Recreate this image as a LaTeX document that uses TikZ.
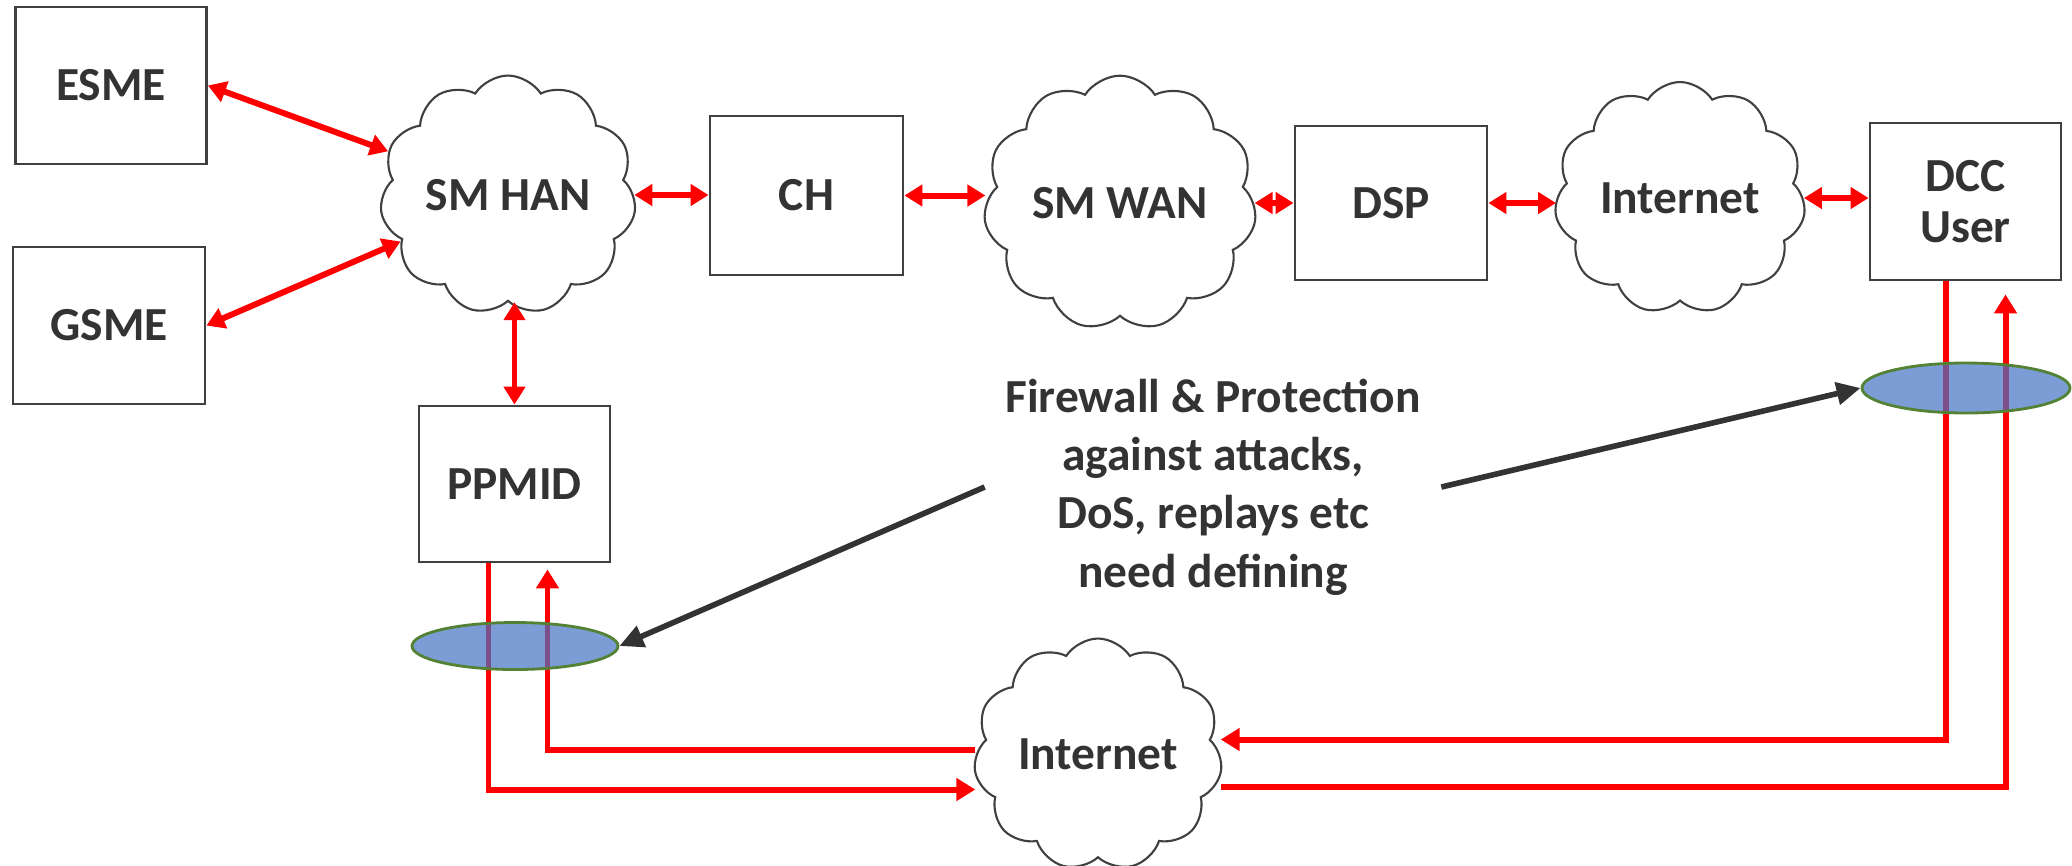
\documentclass[tikz,border=0pt]{standalone}
\usepackage{fontspec}
\setmainfont{Carlito}
\usetikzlibrary{arrows.meta,positioning,calc,shapes.geometric,shapes.symbols}
\definecolor{txtgray}{HTML}{333333}
\definecolor{boxgray}{HTML}{404040}
\definecolor{fwblue}{HTML}{4472C4}
\definecolor{fwgreen}{HTML}{548235}

\begin{document}
\begin{tikzpicture}[>=Latex, every node/.style={font=\fontsize{13.5}{14.5}\selectfont\bfseries, text=txtgray},
  unit/.style={draw=boxgray, line width=0.8pt, minimum width=1.91cm, minimum height=1.57cm, align=center},
  net/.style={cloud, draw=boxgray, line width=0.6pt, cloud puffs=11, cloud puff arc=115, aspect=1.1, inner sep=0pt},
  link/.style={red, line width=1.7pt, arrows={Triangle[length=1.8mm,width=2.1mm]-Triangle[length=1.8mm,width=2.1mm]}},
  flow/.style={red, line width=1.7pt, arrows={-Triangle[length=1.9mm,width=2.2mm]}},
  wall/.style={ellipse, draw=fwgreen, line width=0.8pt, fill=fwblue, fill opacity=0.7, minimum width=2.06cm, minimum height=0.47cm},
  hint/.style={draw=txtgray, line width=1.6pt, arrows={-Triangle[length=2.4mm,width=2.2mm]}}]
\useasboundingbox (0,0) rectangle (20.72,-8.65);

% boxes
\node[unit] (esme) at (1.11,-0.855) {ESME};
\node[unit, minimum width=1.92cm] (gsme) at (1.09,-3.255) {GSME};
\node[unit, minimum width=1.93cm, minimum height=1.59cm] (ch) at (8.065,-1.955) {CH};
\node[unit, minimum width=1.92cm, minimum height=1.54cm] (dsp) at (13.91,-2.03) {DSP};
\node[unit] (dcc) at (19.655,-2.015) {DCC\\User};
\node[unit, minimum height=1.56cm] (ppmid) at (5.145,-4.84) {PPMID};

% clouds
\node[net, minimum width=2.36cm, minimum height=2.2cm] (han) at (5.08,-1.95) {SM HAN};
\node[net, minimum width=2.4cm, minimum height=2.25cm] (wan) at (11.2,-2.03) {SM WAN};
\node[net, minimum width=2.51cm, minimum height=2.11cm] (inet1) at (16.8,-1.98) {Internet};
\node[net, minimum width=2.43cm, minimum height=2.15cm] (inet2) at (10.98,-7.545) {Internet};

% top links
\draw[link] (esme.east) -- (han);
\draw[link] (gsme.east) -- (han);
\draw[link] (ppmid.north |- han.south) -- (ppmid.north);
\draw[link] (han.east) -- (han.east -| ch.west);
\draw[link] (ch.east) -- (ch.east -| wan.west);
\draw[link] (wan.east) -- (wan.east -| dsp.west);
\draw[link] (dsp.east) -- (dsp.east -| inet1.west);
\draw[link] (inet1.east) -- (inet1.east -| dcc.west);

% lower loops
\draw[flow] ([xshift=-2.6mm]ppmid.south) |- ([yshift=-3.5mm]inet2.west);
\draw[flow] ([yshift=0.5mm]inet2.west) -| ([xshift=3.3mm,yshift=-0.6mm]ppmid.south);
\draw[flow] ([xshift=-2mm]dcc.south) |- ([yshift=1.5mm]inet2.east);
\draw[flow] ([yshift=-3.2mm]inet2.east) -| ([xshift=4mm,yshift=-1.3mm]dcc.south);

% firewalls
\node[wall] (fwl) at (5.15,-6.46) {};
\node[wall, minimum width=2.08cm, minimum height=0.5cm] (fwr) at (19.66,-3.88) {};

\node[align=center, inner sep=2mm, font=\fontsize{13.5}{16.6}\selectfont\bfseries] (note) at (12.13,-4.87)
  {Firewall \& Protection\\against attacks,\\DoS, replays etc\\need defining};
\draw[hint] (note.west) -- (fwl.east);
\draw[hint] (note.east) -- (fwr.west);
\end{tikzpicture}
\end{document}
